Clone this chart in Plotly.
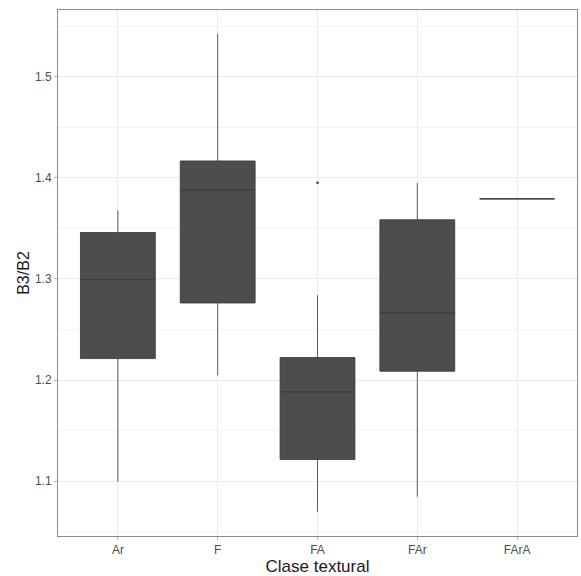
import plotly.graph_objects as go

categories = ["Ar", "F", "FA", "FAr", "FArA"]
lower_whisker = [1.0994, 1.2047, 1.0698, 1.0846, 1.3792]
q1_values = [1.2212, 1.2762, 1.1214, 1.2087, 1.3792]
median_values = [1.2992, 1.3878, 1.1883, 1.2663, 1.3792]
q3_values = [1.3459, 1.4167, 1.2222, 1.3585, 1.3792]
upper_whisker = [1.3677, 1.5424, 1.2837, 1.3948, 1.3792]
outlier_cats = ["FA"]
outlier_values = [1.395]

y_ticks = [1.1, 1.2, 1.3, 1.4, 1.5]

fig = go.Figure()
fig.add_trace(go.Box(
    x=categories,
    q1=q1_values,
    median=median_values,
    q3=q3_values,
    lowerfence=lower_whisker,
    upperfence=upper_whisker,
    width=0.75,
    whiskerwidth=0,
    fillcolor="#4D4D4D",
    line=dict(color="#333333", width=0.8),
    boxpoints=False,
    hoverinfo="skip",
    showlegend=False,
))
fig.add_trace(go.Scatter(
    x=outlier_cats,
    y=outlier_values,
    mode="markers",
    marker=dict(color="#333333", size=2.5),
    hoverinfo="skip",
    showlegend=False,
))

fig.update_layout(
    width=581,
    height=576,
    margin=dict(l=58, r=3, t=10, b=38),
    paper_bgcolor="white",
    plot_bgcolor="white",
    font=dict(family="Liberation Sans, Arial, sans-serif"),
    xaxis=dict(
        type="category",
        categoryorder="array",
        categoryarray=categories,
        range=[-0.6, 4.6],
        showgrid=True,
        gridcolor="#EBEBEB",
        gridwidth=1,
        zeroline=False,
        showline=True,
        linecolor="#8C8C8C",
        linewidth=1,
        mirror=True,
        ticks="outside",
        ticklen=3,
        tickcolor="#B0B0B0",
        tickfont=dict(size=12, color="#4D4D4D"),
        title=dict(text="Clase textural", font=dict(size=17, color="#1a1a1a"), standoff=4),
    ),
    yaxis=dict(
        range=[1.0457, 1.566],
        tickvals=y_ticks,
        ticktext=[f"{v:.1f}" for v in y_ticks],
        showgrid=True,
        gridcolor="#EBEBEB",
        gridwidth=1,
        minor=dict(dtick=0.1, tick0=1.05, showgrid=True, gridcolor="#F4F4F4", gridwidth=0.6),
        zeroline=False,
        showline=True,
        linecolor="#8C8C8C",
        linewidth=1,
        mirror=True,
        ticks="outside",
        ticklen=3,
        tickcolor="#B0B0B0",
        tickfont=dict(size=12, color="#4D4D4D"),
        title=dict(text="B3/B2", font=dict(size=16, color="#1a1a1a"), standoff=1),
    ),
)

fig.write_html("out.html")
